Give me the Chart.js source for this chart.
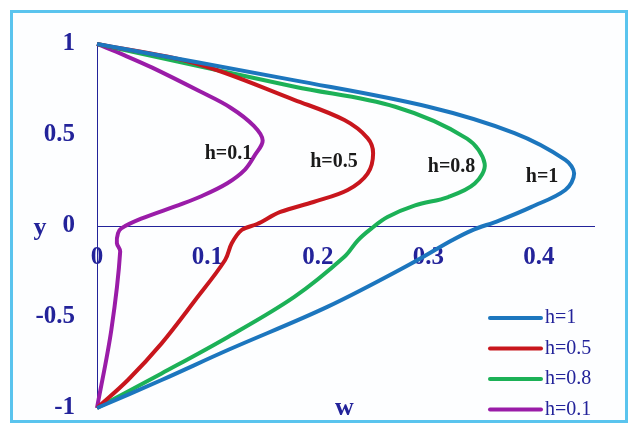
<!DOCTYPE html>
<html>
<head>
<meta charset="utf-8">
<script src="https://cdn.jsdelivr.net/npm/chart.js@4.4.0/dist/chart.umd.min.js"></script>
<style>
  body { margin: 0; background: #fff; }
  #frame { position: absolute; left: 10px; top: 10px; width: 612px; height: 407px; border: 3px solid #5ac4ee; background: #fdfeff; }
  #chart { position: absolute; left: 0; top: 0; }
</style>
</head>
<body>
<div id="frame"></div>
<canvas id="chart" width="633" height="425"></canvas>
<script>
const seriesNames = ["h=1", "h=0.5", "h=0.8", "h=0.1"];
const seriesColors = ["#1c76be", "#c8161d", "#1cb157", "#9a1ca8"];

// velocity profiles w(y), traced from y = 1 down to y = -1
const w_h1 = [0, 0.179, 0.30, 0.378, 0.424, 0.432, 0.424, 0.393, 0.364, 0.339, 0.321, 0.285, 0.209, 0.119, 0.0585, 0];
const y_h1 = [1, 0.80, 0.655, 0.51, 0.363, 0.288, 0.198, 0.104, 0.03, -0.025, -0.08, -0.205, -0.443, -0.68, -0.846, -1];

const w_h05 = [0, 0.089, 0.179, 0.224, 0.245, 0.25, 0.245, 0.227, 0.196, 0.166, 0.145, 0.131, 0.122, 0.116, 0.089, 0.0585, 0.028, 0];
const y_h05 = [1, 0.894, 0.692, 0.582, 0.483, 0.40, 0.288, 0.198, 0.132, 0.077, 0.011, -0.022, -0.095, -0.187, -0.407, -0.645, -0.846, -1];

const w_h08 = [0, 0.179, 0.27, 0.335, 0.351, 0.342, 0.318, 0.288, 0.263, 0.248, 0.236, 0.224, 0.179, 0.119, 0.0585, 0];
const y_h08 = [1, 0.765, 0.655, 0.48, 0.343, 0.233, 0.159, 0.113, 0.049, -0.016, -0.08, -0.169, -0.388, -0.608, -0.81, -1];

const w_h01 = [0, 0.024, 0.05, 0.093, 0.121, 0.142, 0.150, 0.143, 0.134, 0.118, 0.095, 0.074, 0.04, 0.022, 0.019, 0.018, 0.021, 0.013, 0];
const y_h01 = [1, 0.94, 0.87, 0.74, 0.65, 0.55, 0.47, 0.39, 0.31, 0.235, 0.165, 0.115, 0.04, -0.013, -0.04, -0.095, -0.14, -0.57, -1];

const xTicks = [0, 0.1, 0.2, 0.3, 0.4];
const yTicks = [-1, -0.5, 0, 0.5, 1];

const profiles = [[w_h1, y_h1], [w_h05, y_h05], [w_h08, y_h08], [w_h01, y_h01]];

const navy = "#23239a";
const serif = "'Liberation Serif', 'Times New Roman', serif";

// h=... tags next to each curve, in data coordinates
const curveTags = [
  { text: "h=1", w: 0.403, y: 0.269 },
  { text: "h=0.5", w: 0.2145, y: 0.353 },
  { text: "h=0.8", w: 0.321, y: 0.325 },
  { text: "h=0.1", w: 0.119, y: 0.399 }
];

const extras = {
  id: "extras",
  afterDatasetsDraw(chart) {
    const ctx = chart.ctx;
    const xs = chart.scales.x, ys = chart.scales.y;
    ctx.save();
    ctx.textBaseline = "middle";

    // curve tags
    ctx.font = "bold 20px " + serif;
    ctx.fillStyle = "#1a1a1a";
    ctx.textAlign = "center";
    curveTags.forEach(t => ctx.fillText(t.text, xs.getPixelForValue(t.w), ys.getPixelForValue(t.y)));

    // axis names
    ctx.font = "bold 26px " + serif;
    ctx.fillStyle = navy;
    ctx.fillText("w", xs.getPixelForValue(0.224), ys.getPixelForValue(-1));
    ctx.fillText("y", 40, ys.getPixelForValue(0) + 2);

    // legend, bottom right
    ctx.font = "20px " + serif;
    ctx.textAlign = "left";
    chart.data.datasets.forEach((ds, i) => {
      const yy = 318 + i * 30.5;
      ctx.strokeStyle = ds.borderColor;
      ctx.lineWidth = 4;
      ctx.lineCap = "round";
      ctx.beginPath();
      ctx.moveTo(490, yy);
      ctx.lineTo(541, yy);
      ctx.stroke();
      ctx.fillStyle = navy;
      ctx.fillText(ds.label, 545, yy);
    });
    ctx.restore();
  }
};

new Chart(document.getElementById("chart"), {
  type: "scatter",
  data: {
    datasets: profiles.map((p, i) => ({
      label: seriesNames[i],
      data: p[0].map((w, k) => ({ x: w, y: p[1][k] })),
      showLine: true,
      borderColor: seriesColors[i],
      backgroundColor: seriesColors[i],
      borderWidth: 4,
      pointRadius: 0,
      tension: 0.35,
      fill: false,
      clip: false
    }))
  },
  options: {
    responsive: false,
    animation: false,
    layout: { padding: { left: 0, right: 39, top: 44, bottom: 17 } },
    plugins: { legend: { display: false }, tooltip: { enabled: false } },
    scales: {
      x: {
        type: "linear",
        min: 0,
        max: 0.45,
        position: { y: 0 },
        afterBuildTicks: s => { s.ticks = xTicks.map(v => ({ value: v })); },
        afterFit: s => { s.height = 0; },
        grid: { display: false, drawTicks: false },
        border: { display: true, color: navy, width: 1 },
        ticks: {
          autoSkip: false,
          maxRotation: 0,
          padding: 17,
          color: navy,
          font: { family: serif, size: 25, weight: "bold" },
          callback: v => String(v)
        }
      },
      y: {
        type: "linear",
        min: -1,
        max: 1,
        afterBuildTicks: s => { s.ticks = yTicks.map(v => ({ value: v })); },
        afterFit: s => { s.width = 97; },
        // the gap to the axis comes from an invisible tick mark, so the
        // label padding does not push the plot area up from the bottom
        grid: { display: false, drawTicks: true, tickLength: 20 },
        border: { display: true, color: navy, width: 1 },
        ticks: {
          padding: 2,
          color: navy,
          font: { family: serif, size: 25, weight: "bold" },
          callback: v => String(v)
        }
      }
    }
  },
  plugins: [extras]
});
</script>
</body>
</html>
